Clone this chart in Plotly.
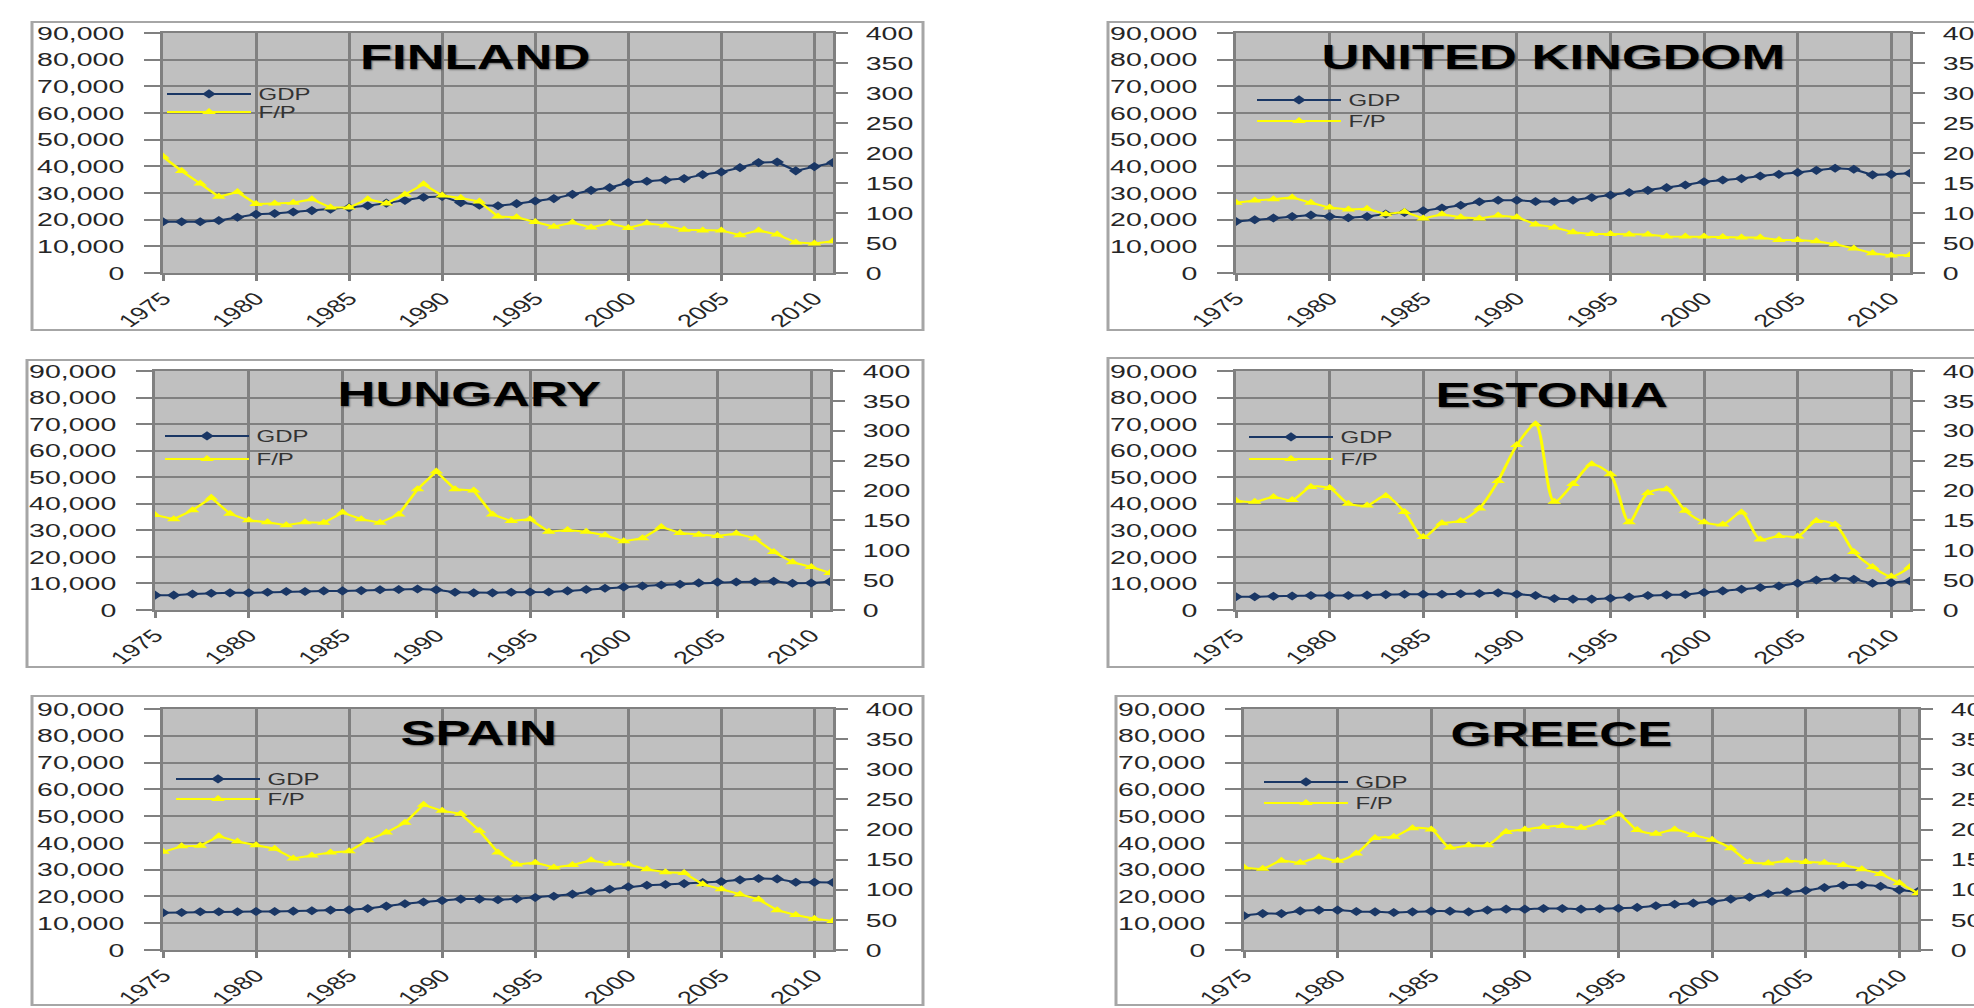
import plotly.graph_objects as go

# ---------------- data ----------------
years = list(range(1975, 2012))
x_ticks = [1975, 1980, 1985, 1990, 1995, 2000, 2005, 2010]
gdp_ticks = [0, 10000, 20000, 30000, 40000, 50000, 60000, 70000, 80000, 90000]
fp_ticks = [0, 50, 100, 150, 200, 250, 300, 350, 400]

countries = ["FINLAND", "UNITED KINGDOM", "HUNGARY", "ESTONIA", "SPAIN", "GREECE"]
series_names = ["GDP", "F/P"]

finland_gdp = [19200, 19200, 19200, 19700, 20900, 22000, 22300, 22900, 23400, 23900, 24500, 25200, 26200,
               27200, 28400, 28700, 26400, 25400, 25200, 26000, 27000, 27900, 29500, 31000, 32000, 33900,
               34400, 34900, 35400, 36900, 37900, 39500, 41400, 41600, 38300, 39900, 41400]
finland_fp = [194, 170, 149, 127, 135, 115, 116, 117, 123, 109, 109, 123, 116, 131, 148, 129, 125, 119, 94,
              93, 85, 77, 84, 76, 83, 75, 83, 79, 72, 71, 71, 63, 71, 64, 51, 49, 53]

uk_gdp = [19300, 19950, 20600, 21200, 21700, 21200, 20700, 21200, 22100, 22700, 23300, 24400, 25400, 26700,
          27300, 27300, 26800, 26800, 27300, 28300, 29200, 30200, 31000, 32000, 33000, 34200, 34900, 35400,
          36400, 37000, 37700, 38500, 39300, 38900, 36800, 37000, 37400]
uk_fp = [117, 121, 123, 126, 117, 109, 106, 107, 98, 102, 91, 98, 93, 91, 96, 93, 81, 76, 68, 65, 65, 64, 64,
         61, 61, 61, 60, 59, 59, 55, 55, 53, 48, 41, 33, 29, 30]

hungary_gdp = [5600, 5600, 6000, 6300, 6450, 6450, 6700, 6950, 6950, 7200, 7200, 7300, 7600, 7700, 7900, 7600,
               6700, 6450, 6450, 6700, 6800, 6800, 7200, 7700, 8200, 8700, 9050, 9400, 9700, 10200, 10500,
               10550, 10650, 10800, 10050, 10150, 10650]
hungary_fp = [159, 152, 167, 188, 161, 150, 147, 142, 147, 146, 163, 152, 146, 160, 202, 232, 202, 200, 160,
              149, 152, 131, 134, 131, 125, 115, 120, 139, 129, 126, 124, 128, 120, 97, 80, 72, 62]

estonia_gdp = [5000, 5000, 5200, 5300, 5450, 5450, 5450, 5600, 5800, 5950, 5950, 5950, 6100, 6200, 6450, 5950,
               5450, 4350, 4100, 4100, 4450, 4850, 5450, 5700, 5850, 6600, 7200, 7800, 8450, 9050, 10050,
               11300, 12000, 11550, 10050, 10300, 10900]
estonia_fp = [183, 181, 189, 184, 206, 204, 178, 175, 191, 164, 122, 145, 149, 170, 216, 276, 311, 181, 211,
              244, 227, 147, 196, 202, 166, 147, 143, 163, 118, 124, 123, 149, 143, 97, 72, 56, 72]

spain_gdp = [13900, 14000, 14300, 14300, 14300, 14400, 14400, 14500, 14650, 14900, 15000, 15500, 16400, 17250,
             17900, 18500, 19000, 19000, 18750, 19100, 19600, 20100, 20850, 21850, 22700, 23600, 24200, 24450,
             24800, 25200, 25550, 26200, 26700, 26550, 25300, 25300, 25200]
spain_fp = [163, 172, 173, 189, 180, 174, 168, 152, 157, 162, 164, 182, 195, 211, 241, 231, 226, 198, 162, 142,
            145, 137, 141, 149, 143, 142, 134, 129, 128, 109, 101, 92, 84, 66, 58, 52, 48]

greece_gdp = [12800, 13600, 13600, 14600, 14900, 14900, 14400, 14250, 14000, 14250, 14500, 14500, 14250, 14900,
              15250, 15250, 15500, 15500, 15250, 15400, 15600, 15900, 16500, 17100, 17500, 18100, 19000, 19750,
              21000, 21700, 22200, 23300, 24200, 24300, 23800, 22400, 21800]
greece_fp = [137, 135, 148, 145, 154, 148, 160, 186, 188, 202, 200, 170, 174, 174, 196, 200, 204, 206, 203, 211,
             225, 199, 193, 200, 191, 183, 169, 146, 144, 148, 146, 145, 141, 134, 126, 111, 94]

gdp_series = [finland_gdp, uk_gdp, hungary_gdp, estonia_gdp, spain_gdp, greece_gdp]
fp_series = [finland_fp, uk_fp, hungary_fp, estonia_fp, spain_fp, greece_fp]

# ---------------- layout / style (screen pixels of the final 1974x1008 page) ----------------
FULL_W, H = 1974, 1008
STRETCH = 1.5                  # the reference is horizontally stretched
W = FULL_W / STRETCH

# plot area (x0, x1, y0, y1), outer box (x0, x1, y0, y1), title centre (x, y),
# legend: sample start x, GDP item centre y, F/P item centre y; line shape
panels = [
    dict(plot=(163, 833, 33, 273), box=(32, 923, 22, 330), title=(475, 56), leg=(167, 93, 111), shape="linear"),
    dict(plot=(1236, 1910, 33, 273), box=(1108, 2010, 22, 330), title=(1553, 56), leg=(1257, 99, 120), shape="linear"),
    dict(plot=(155, 830, 371, 610), box=(27, 923, 360, 667), title=(469, 394), leg=(165, 435, 458), shape="linear"),
    dict(plot=(1236, 1910, 371, 610), box=(1108, 2010, 358, 667), title=(1552, 395), leg=(1249, 436, 458), shape="spline"),
    dict(plot=(163, 833, 709, 950), box=(32, 923, 696, 1005), title=(478, 732), leg=(176, 778, 798), shape="linear"),
    dict(plot=(1244, 1918, 709, 950), box=(1116, 2010, 696, 1005), title=(1562, 733), leg=(1264, 781, 802), shape="spline"),
]

NAVY = "#1a3765"
YELLOW = "#ffff00"
GRID = "#808080"
BOX = "#a6a6a6"
TEXT = "#262626"
FONT = "Liberation Sans, Arial, sans-serif"


def px_x(v):
    return v / FULL_W


def px_y(v):
    return 1 - v / H


def legend_box(sample_x, centre_y):
    return dict(
        visible=True,
        x=(sample_x - 7.5) / FULL_W, xanchor="left",
        y=px_y(centre_y - 16), yanchor="top",
        bgcolor="rgba(0,0,0,0)", borderwidth=0,
        font=dict(family=FONT, size=16, color="#333333"),
        itemwidth=56, tracegroupgap=0)


fig = go.Figure()
layout = dict(
    width=W, height=H, autosize=False, showlegend=True,
    margin=dict(l=0, r=0, t=0, b=0, pad=0, autoexpand=False),
    paper_bgcolor="white", plot_bgcolor="#c0c0c0",
    font=dict(family=FONT, size=19, color=TEXT),
    annotations=[], shapes=[],
)

for i, (name, gdp, fp, p) in enumerate(zip(countries, gdp_series, fp_series, panels)):
    n = i + 1
    xa = "x" if n == 1 else f"x{n}"
    yl = "y" if n == 1 else f"y{2 * n - 1}"
    yr = f"y{2 * n}"
    leg_gdp = "legend" if n == 1 else f"legend{2 * n - 1}"
    leg_fp = f"legend{2 * n}"
    smooth = 0.8 if p["shape"] == "spline" else None

    fig.add_trace(go.Scatter(
        x=years, y=gdp, name=series_names[0], mode="lines+markers", showlegend=True,
        line=dict(color=NAVY, width=2, shape=p["shape"], smoothing=smooth),
        marker=dict(symbol="diamond", size=7, color=NAVY),
        xaxis=xa, yaxis=yl, legend=leg_gdp, hoverinfo="x+y"))
    fig.add_trace(go.Scatter(
        x=years, y=fp, name=series_names[1], mode="lines+markers", showlegend=True,
        line=dict(color=YELLOW, width=2, shape=p["shape"], smoothing=smooth),
        marker=dict(symbol="triangle-up", size=8, color=YELLOW),
        xaxis=xa, yaxis=yr, legend=leg_fp, hoverinfo="x+y"))

    x0, x1, y0, y1 = p["plot"]
    xdom = [px_x(x0), px_x(x1)]
    ydom = [px_y(y1), px_y(y0)]

    layout["xaxis" if n == 1 else f"xaxis{n}"] = dict(
        domain=xdom, range=[1975, 2011], tickvals=x_ticks, tickangle=-45,
        showgrid=True, gridcolor=GRID, gridwidth=2, zeroline=False,
        showline=True, mirror=True, linecolor=GRID, linewidth=2,
        ticks="outside", ticklen=6, tickwidth=2, tickcolor=GRID,
        tickfont=dict(family=FONT, size=18, color=TEXT),
        anchor=yl, fixedrange=True, automargin=False)
    layout["yaxis" if n == 1 else f"yaxis{2 * n - 1}"] = dict(
        domain=ydom, range=[0, 90000], tickvals=gdp_ticks, tickformat=",d",
        showgrid=True, gridcolor=GRID, gridwidth=2, zeroline=False,
        showline=True, linecolor=GRID, linewidth=2,
        ticks="outside", ticklen=11, tickwidth=2, tickcolor=GRID,
        ticklabelstandoff=9,
        tickfont=dict(family=FONT, size=19, color=TEXT),
        anchor=xa, fixedrange=True, automargin=False)
    layout[f"yaxis{2 * n}"] = dict(
        domain=ydom, range=[0, 400], tickvals=fp_ticks, overlaying=yl, side="right",
        showgrid=False, zeroline=False,
        showline=True, linecolor=GRID, linewidth=2,
        ticks="outside", ticklen=8, tickwidth=2, tickcolor=GRID,
        ticklabelstandoff=8,
        tickfont=dict(family=FONT, size=19, color=TEXT),
        anchor=xa, fixedrange=True, automargin=False)

    lx, ly_gdp, ly_fp = p["leg"]
    layout[leg_gdp] = legend_box(lx, ly_gdp)
    layout[leg_fp] = legend_box(lx, ly_fp)

    tx, ty = p["title"]
    layout["annotations"].append(dict(
        text=f"<b>{name}</b>", xref="paper", yref="paper",
        x=px_x(tx), y=px_y(ty), xanchor="center", yanchor="middle", showarrow=False,
        font=dict(family=FONT, size=35, color="#000000", shadow="1px 1px 2px rgba(0,0,0,0.45)")))

    bx0, bx1, by0, by1 = p["box"]
    layout["shapes"].append(dict(
        type="rect", xref="paper", yref="paper", layer="below",
        x0=px_x(bx0), x1=px_x(bx1), y0=px_y(by1), y1=px_y(by0),
        line=dict(color=BOX, width=2), fillcolor="rgba(0,0,0,0)"))

fig.update_layout(**layout)

# stretch the page horizontally like the reference picture; pin it to the top-left corner
post = (
    "document.documentElement.style.margin='0';"
    "document.documentElement.style.overflow='hidden';"
    "document.body.style.margin='0';"
    "document.body.style.overflow='hidden';"
    "var gd=document.getElementById('{plot_id}');"
    "gd.style.position='fixed';gd.style.left='0px';gd.style.top='0px';"
    "gd.style.transformOrigin='0px 0px';"
    "gd.style.transform='scaleX(" + str(STRETCH) + ")';"
)
fig.write_html("out.html", post_script=post, config={"displayModeBar": False})
